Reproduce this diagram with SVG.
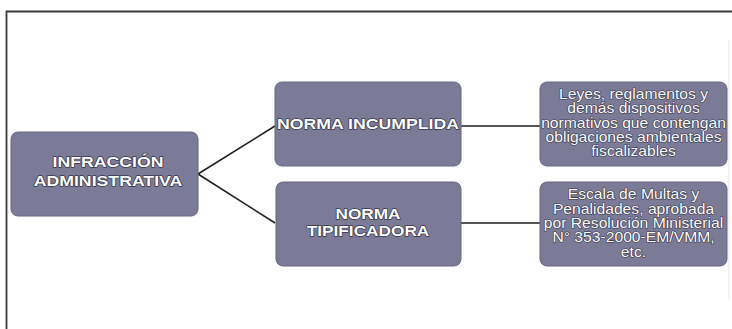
<svg xmlns="http://www.w3.org/2000/svg" width="732" height="329" viewBox="0 0 732 329">
<style>
.box{fill:#7c7b97;stroke:#66657f;stroke-width:1}
.t{font-family:"Liberation Sans",Arial,sans-serif;fill:#ffffff;stroke:#34344a;stroke-width:1.4;paint-order:stroke;text-anchor:middle;stroke-linejoin:round}
.b{font-weight:bold;font-size:15px}
.r{font-size:14px;stroke-width:1.2}
.c{fill:none;stroke:#1e1e1e;stroke-width:1.6}
</style>
<rect width="732" height="329" fill="#ffffff"/>
<path d="M6.5,329 V11.5 H732" fill="none" stroke="#3a3a3a" stroke-width="1.8"/>
<line x1="729" y1="40" x2="729" y2="300" stroke="#e6e6e6" stroke-width="1"/>
<g id="connectors">
<path class="c" d="M198,174 L275,126"/>
<path class="c" d="M198,174 L275,223"/>
<path class="c" d="M461,126 H540"/>
<path class="c" d="M461,223 H540"/>
</g>
<g id="infraccion">
<rect class="box" x="11" y="132" width="187" height="84" rx="7"/>
<g transform="translate(108,0) scale(1.18,1)">
<text class="t b" x="0" y="167">INFRACCIÓN</text>
<text class="t b" x="0" y="186">ADMINISTRATIVA</text>
</g>
</g>
<g id="norma-incumplida">
<rect class="box" x="275" y="82" width="186" height="84" rx="7"/>
<g transform="translate(368,0) scale(1.18,1)">
<text class="t b" x="0" y="129.5">NORMA INCUMPLIDA</text>
</g>
</g>
<g id="norma-tipificadora">
<rect class="box" x="276" y="182" width="185" height="84" rx="7"/>
<g transform="translate(368,0) scale(1.15,1)">
<text class="t b" x="0" y="219">NORMA</text>
<text class="t b" x="0" y="236">TIPIFICADORA</text>
</g>
</g>
<g id="leyes">
<rect class="box" x="540" y="82" width="187" height="84" rx="7"/>
<g transform="translate(633.5,0) scale(1.12,1)">
<text class="t r" x="0" y="99">Leyes, reglamentos y</text>
<text class="t r" x="0" y="113.5">demás dispositivos</text>
<text class="t r" x="0" y="128">normativos que contengan</text>
<text class="t r" x="0" y="142">obligaciones ambientales</text>
<text class="t r" x="0" y="156.5">fiscalizables</text>
</g>
</g>
<g id="escala">
<rect class="box" x="540" y="182" width="187" height="84" rx="7"/>
<g transform="translate(633.5,0) scale(1.12,1)">
<text class="t r" x="0" y="199">Escala de Multas y</text>
<text class="t r" x="0" y="214">Penalidades, aprobada</text>
<text class="t r" x="0" y="228">por Resolución Ministerial</text>
<text class="t r" x="0" y="242.5">N° 353-2000-EM/VMM,</text>
<text class="t r" x="0" y="257">etc.</text>
</g>
</g>
</svg>
